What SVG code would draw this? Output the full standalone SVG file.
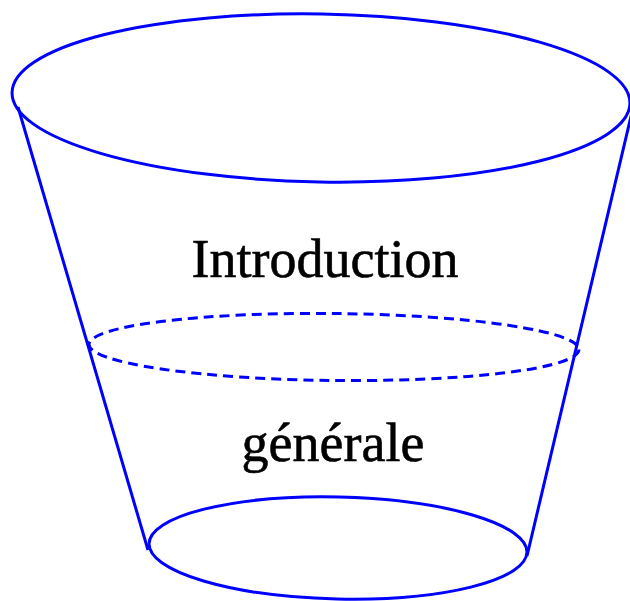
<svg xmlns="http://www.w3.org/2000/svg" width="630" height="601" viewBox="0 0 630 601">
<style>
.s{fill:none;stroke:#0000ff;stroke-width:3}
.d{stroke-dasharray:10 6}
.t{font-family:"Liberation Serif","Times New Roman",serif;font-size:54px;fill:#000;stroke:#000;stroke-width:0.6;text-anchor:middle}
</style>
<rect width="630" height="601" fill="#fff"/>
<g id="connectors">
<line class="s" x1="18" y1="107" x2="148" y2="550"/>
<line class="s" x1="632" y1="112" x2="527" y2="556"/>
</g>
<g id="top">
<ellipse class="s" cx="321" cy="98" rx="309" ry="84" transform="rotate(1 321 98)"/>
</g>
<g id="middle">
<ellipse class="s d" cx="334" cy="347" rx="245" ry="33.5" transform="rotate(0.6 334 347)"/>
</g>
<g id="bottom">
<ellipse class="s" cx="338" cy="548" rx="189" ry="51" transform="rotate(1.3 338 548)"/>
</g>
<g id="labels">
<text class="t" x="325" y="277">Introduction</text>
<text class="t" x="333" y="461">générale</text>
</g>
</svg>
